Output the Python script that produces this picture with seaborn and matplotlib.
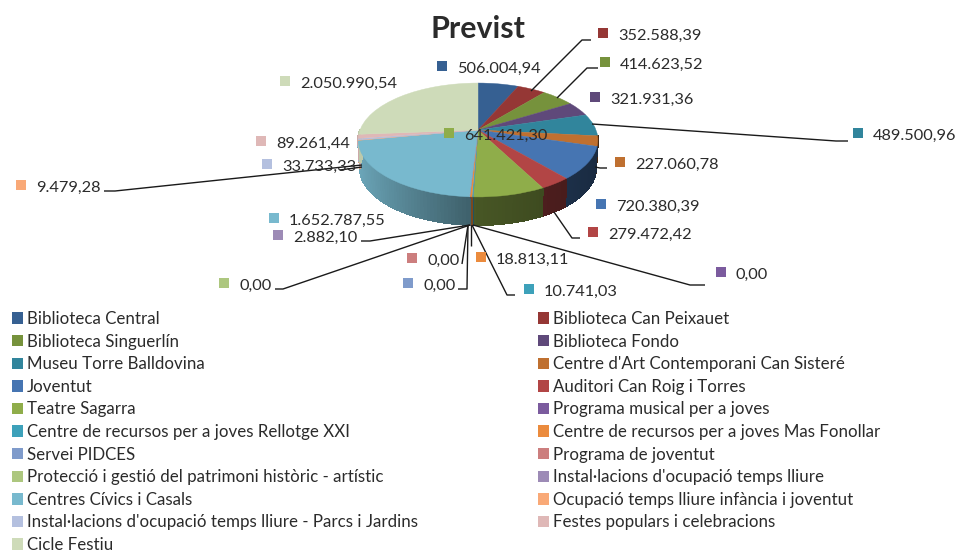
import numpy as np
import matplotlib
matplotlib.use('Agg')
import matplotlib.pyplot as plt
from matplotlib.patches import Patch
from matplotlib.transforms import Transform
import seaborn as sns

# Data
names = ["Biblioteca Central", "Biblioteca Can Peixauet", "Biblioteca Singuerlín", "Biblioteca Fondo",
         "Museu Torre Balldovina", "Centre d'Art Contemporani Can Sisteré", "Joventut", "Auditori Can Roig i Torres",
         "Teatre Sagarra", "Programa musical per a joves", "Centre de recursos per a joves Rellotge XXI",
         "Centre de recursos per a joves Mas Fonollar", "Servei PIDCES", "Programa de joventut",
         "Protecció i gestió del patrimoni històric - artístic", "Instal·lacions d'ocupació temps lliure",
         "Centres Cívics i Casals", "Ocupació temps lliure infància i joventut",
         "Instal·lacions d'ocupació temps lliure - Parcs i Jardins", "Festes populars i celebracions", "Cicle Festiu"]
values = [506004.94, 352588.39, 414623.52, 321931.36, 489500.96, 227060.78, 720380.39, 279472.42,
          641421.30, 0.00, 10741.03, 18813.11, 0.00, 0.00, 0.00, 2882.10,
          1652787.55, 9479.28, 33733.33, 89261.44, 2050990.54]
colors = ['#366092', '#953735', '#76923C', '#5F497A', '#31859C', '#BF7030', '#4675B2', '#B24545',
          '#8FAD4A', '#7B5B9E', '#3DA1BA', '#EB8B3D', '#7F9BCB', '#CC7E7E', '#ADC77F', '#9D8BB6',
          '#78B9CE', '#F9A977', '#B4C0DF', '#DFB8B7', '#CEDBB9']

# Layout in pixels: swatch centre of each value label, and its leader line
swatch_xy = [(442, 66), (603, 33), (605, 62), (595, 97), (858, 133), (620, 162), (601, 204), (593, 232),
             (449, 133), (721, 272), (529, 289), (481, 257), (408, 283), (412, 258), (224, 283), (278, 235),
             (274, 218), (21, 185), (267, 164), (261, 141), (285, 81)]
leaders = [None, [(531, 91), (582, 40), (591, 40)], [(557, 98), (587, 68), (598, 68)], None,
           [(592, 124), (836, 141), (848, 141)], [(595, 167), (600, 168), (607, 168)], None,
           [(554, 212), (572, 238), (580, 238)], None, [(473, 225), (690, 285), (705, 285)],
           [(472, 225), (507, 295), (515, 295)], [(471, 225), (471, 246)], [(468, 225), (467, 289), (458, 289)],
           [(468, 225), (462, 264)], [(470, 225), (283, 289), (275, 289)], [(470, 225), (370, 241), (361, 241)],
           None, [(362, 165), (115, 191), (104, 191)], [(362, 167), (340, 170)], None, None]

CX, CY, RX = 478, 130, 118
RY, K = 55.2, 0.1754
DEPTH = 28


class TiltedDisc(Transform):
    # unit circle -> pie seen in perspective, in pixels
    input_dims = 2
    output_dims = 2
    has_inverse = False

    def __init__(self, scale=1.0, drop=0):
        super().__init__()
        self.scale = scale
        self.drop = drop

    def transform_non_affine(self, values):
        x, y = np.asarray(values).T
        w = 1 + K * y
        return np.column_stack([CX + self.scale * RX * x / w, CY + self.drop - RY * y / w])


def shade(rgb, x):
    # side of the pie gets darker from left to right
    t = (x + 1) / 2
    f = np.interp(t, [0, 0.5, 1], [0.92, 0.5, 0.36])
    return tuple(c * f for c in rgb)


def euro(v):
    return f"{v:,.2f}".replace(',', ' ').replace('.', ',').replace(' ', '.')


sns.set_theme(style='white')
plt.rcParams['font.family'] = ['Lato', 'DejaVu Sans']
palette = sns.color_palette(colors)
text_color = '#2b2b2b'
fs = 12.2

fig = plt.figure(figsize=(9.57, 5.53), dpi=100)
ax = fig.add_axes([0, 0, 1, 1])

wedges, _ = ax.pie(values, colors=palette, startangle=90, counterclock=False)
ax.set_aspect('auto')
ax.set_xlim(0, 957)
ax.set_ylim(553, 0)
ax.axis('off')

top = TiltedDisc()
bottom = TiltedDisc(scale=0.985, drop=DEPTH)

# side wall, only the near half is visible
for w, col in zip(wedges, palette):
    a1, a2 = max(w.theta1 % 360, 180), w.theta2 % 360 or 360
    if w.theta2 - w.theta1 <= 0 or a2 <= a1:
        continue
    edges = np.radians(np.append(np.arange(a1, a2, 1.5), a2))
    for t1, t2 in zip(edges[:-1], edges[1:]):
        pts = np.array([[np.cos(t1), np.sin(t1)], [np.cos(t2), np.sin(t2)]])
        poly = np.vstack([top.transform(pts), bottom.transform(pts[::-1])])
        c = shade(col, np.cos((t1 + t2) / 2))
        ax.fill(poly[:, 0], poly[:, 1], color=c, lw=0.8, antialiased=False, zorder=1)

for w, col in zip(wedges, palette):
    w.set_transform(top + ax.transData)
    w.set_edgecolor(col)
    w.set_linewidth(0.3)
    w.set_zorder(2)

for pts in leaders:
    if pts:
        xs, ys = zip(*pts)
        ax.plot(xs, ys, color='#1a1a1a', lw=1, zorder=3, solid_capstyle='butt')

ax.scatter(*zip(*swatch_xy), c=palette, marker='s', s=62, linewidths=0, zorder=4)
for (sx, sy), v in zip(swatch_xy, values):
    ax.text(sx + 15, sy + 3, euro(v), fontsize=11.8, color=text_color, va='center', ha='left', zorder=5)

ax.text(478, 29, 'Previst', fontsize=21.9, fontweight='bold', color=text_color, ha='center', va='center')

# legend, two columns
handles = [Patch(facecolor=c, edgecolor='none', label=n) for c, n in zip(palette, names)]
leg_kw = dict(loc='upper left', frameon=False, fontsize=fs, labelcolor=text_color, borderpad=0, borderaxespad=0,
              handlelength=0.65, handleheight=0.65, handletextpad=0.24, labelspacing=0.39,
              bbox_transform=ax.transData)
left = ax.legend(handles=handles[0::2], bbox_to_anchor=(12, 311), **leg_kw)
ax.add_artist(left)
ax.legend(handles=handles[1::2], bbox_to_anchor=(538, 311), **leg_kw)

fig.savefig('out.png', dpi=100)
